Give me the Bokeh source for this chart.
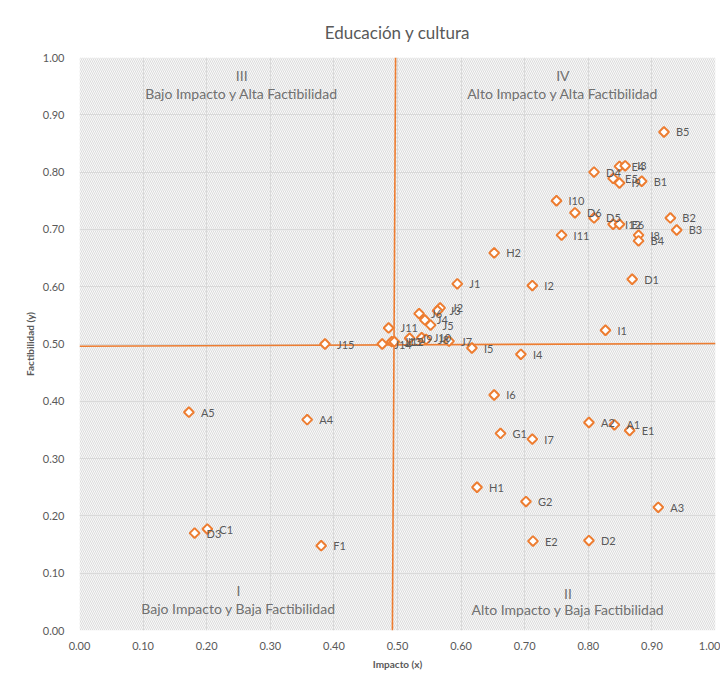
import math
from bokeh.plotting import figure
from bokeh.models import Range1d, FixedTicker, PrintfTickFormatter, ColumnDataSource
from bokeh.core.properties import value
from bokeh.embed import file_html
from bokeh.resources import INLINE

# ---- data ----
labels = ["B5", "E4", "I3", "D4", "E5", "I9", "B1", "I10", "D6", "D5", "I12", "E6",
          "B2", "B3", "I8", "B4", "I11", "H2", "D1", "J1", "I2", "I1", "I5", "I4",
          "I6", "A2", "A1", "E1", "G1", "I7", "J2", "J3", "J6", "J4", "J5", "J11",
          "J14", "J13", "J12", "J9", "J10", "J8", "J7", "J15", "A5", "A4", "D3",
          "C1", "F1", "H1", "G2", "A3", "E2", "D2"]
impacto = [0.919, 0.849, 0.858, 0.809, 0.839, 0.849, 0.884, 0.750, 0.779, 0.809, 0.839, 0.849,
           0.929, 0.939, 0.879, 0.879, 0.758, 0.652, 0.869, 0.594, 0.712, 0.827, 0.617, 0.694,
           0.652, 0.801, 0.841, 0.865, 0.662, 0.712, 0.567, 0.563, 0.534, 0.543, 0.552, 0.486,
           0.476, 0.491, 0.495, 0.519, 0.538, 0.545, 0.581, 0.386, 0.172, 0.358, 0.181,
           0.201, 0.380, 0.625, 0.702, 0.910, 0.713, 0.801]
factibilidad = [0.870, 0.810, 0.811, 0.800, 0.789, 0.781, 0.784, 0.750, 0.729, 0.720, 0.709, 0.709,
                0.720, 0.699, 0.690, 0.680, 0.690, 0.659, 0.613, 0.605, 0.602, 0.524, 0.493, 0.482,
                0.411, 0.363, 0.359, 0.349, 0.344, 0.334, 0.563, 0.558, 0.553, 0.542, 0.533, 0.528,
                0.500, 0.504, 0.504, 0.510, 0.511, 0.508, 0.505, 0.500, 0.381, 0.368, 0.170,
                0.177, 0.148, 0.250, 0.225, 0.215, 0.156, 0.157]

# quadrant divider lines (x0, y0, x1, y1)
div_x0 = [0.497, 0.0]
div_y0 = [1.0, 0.496]
div_x1 = [0.492, 1.0]
div_y1 = [0.0, 0.501]

quad_numerals = ["III", "IV", "I", "II"]
quad_names = ["Bajo Impacto y Alta Factibilidad", "Alto Impacto y Alta Factibilidad",
              "Bajo Impacto y Baja Factibilidad", "Alto Impacto y Baja Factibilidad"]
quad_cx = [0.255, 0.760, 0.250, 0.768]
quad_num_y = [0.968, 0.968, 0.070, 0.065]
quad_name_y = [0.937, 0.937, 0.038, 0.036]

tick_vals = [i / 10 for i in range(11)]

FONT = "Lato"
ORANGE = "#ED7D31"
TXT = "#595959"

p = figure(frame_width=636, frame_height=573,
           x_range=Range1d(0, 1), y_range=Range1d(0, 1),
           output_backend="svg", toolbar_location=None,
           title="Educación y cultura",
           min_border_left=79, min_border_right=5, min_border_top=57, min_border_bottom=42)

p.title.align = "center"
p.title.text_font = FONT
p.title.text_font_size = "17px"
p.title.text_font_style = "normal"
p.title.text_color = TXT
p.title.standoff = 30

p.outline_line_color = None
p.background_fill_color = "white"
p.border_fill_color = "white"

# hatched plot-area background
p.quad(left=[0], right=[1], bottom=[0], top=[1], fill_color="#f9f9f9",
       hatch_pattern="\\", hatch_color="#dcdcdc", hatch_weight=1, hatch_scale=4,
       line_color=None, level="image")

for ax in (p.xaxis[0], p.yaxis[0]):
    ax.ticker = FixedTicker(ticks=tick_vals)
    ax.formatter = PrintfTickFormatter(format="%.2f")
    ax.axis_line_color = None
    ax.major_tick_line_color = None
    ax.minor_tick_line_color = None
    ax.major_label_text_font = FONT
    ax.major_label_text_font_size = "11px"
    ax.major_label_text_color = TXT
    ax.axis_label_text_font = FONT
    ax.axis_label_text_font_size = "10px"
    ax.axis_label_text_font_style = "bold"
    ax.axis_label_text_color = TXT

p.xaxis.axis_label = "Impacto (x)"
p.yaxis.axis_label = "Factibilidad (y)"
p.xaxis.major_label_standoff = 5
p.yaxis.major_label_standoff = 9
p.xaxis.axis_label_standoff = 5
p.yaxis.axis_label_standoff = 4

for g in (p.xgrid[0], p.ygrid[0]):
    g.ticker = FixedTicker(ticks=tick_vals)
    g.grid_line_color = "#d9d9d9"
    g.grid_line_width = 1

# divider lines
p.segment(x0=div_x0, y0=div_y0, x1=div_x1, y1=div_y1, line_color=ORANGE, line_width=1.6)

# quadrant labels
p.text(x=quad_cx, y=quad_num_y, text=quad_numerals, text_align="center", text_baseline="middle",
       text_font=value(FONT), text_font_size="14px", text_color="#707070")
p.text(x=quad_cx, y=quad_name_y, text=quad_names, text_align="center", text_baseline="middle",
       text_font=value(FONT), text_font_size="14px", text_color="#707070")

src = ColumnDataSource(dict(x=impacto, y=factibilidad, label=labels))
p.scatter(x="x", y="y", source=src, marker="square", angle=math.pi / 4, size=7,
          line_color=ORANGE, line_width=2, fill_color="white")
p.text(x="x", y="y", text="label", source=src, x_offset=12, text_baseline="middle",
       text_font=value(FONT), text_font_size="11px", text_color=TXT)

open("out.html", "w").write(file_html(p, INLINE))
